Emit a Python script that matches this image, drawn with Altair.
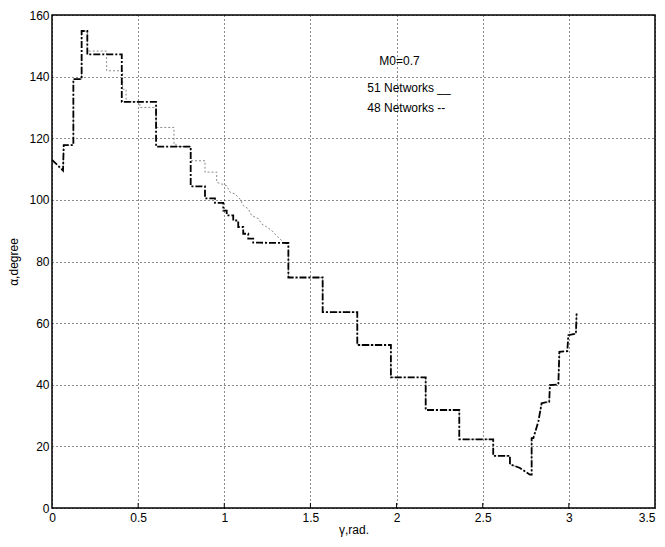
import altair as alt
import pandas as pd

# 48 Networks (dark dash-dot)
black_x = [0, 0.064, 0.068, 0.124, 0.124, 0.172, 0.172, 0.205, 0.205, 0.405, 0.405, 0.604, 0.604,
           0.805, 0.805, 0.888, 0.888, 0.946, 0.946, 0.994, 0.994, 1.014, 1.014, 1.052, 1.052, 1.081,
           1.081, 1.110, 1.110, 1.139, 1.139, 1.168, 1.168, 1.207, 1.366, 1.372, 1.372, 1.571, 1.571,
           1.772, 1.772, 1.967, 1.967, 2.169, 2.169, 2.364, 2.364, 2.561, 2.561, 2.658, 2.658, 2.716,
           2.774, 2.784, 2.784, 2.794, 2.823, 2.842, 2.886, 2.890, 2.939, 2.945, 2.991, 2.997, 3.041, 3.045]
black_y = [113, 109.5, 117.8, 117.8, 139.2, 139.2, 154.8, 154.8, 147.2, 147.2, 131.8, 131.8, 117.3,
           117.3, 104.4, 104.4, 100.5, 100.5, 99.0, 99.0, 96.5, 96.5, 95.0, 95.0, 93.3, 93.3,
           91.2, 91.2, 89.0, 89.0, 87.4, 87.4, 86.1, 86.1, 86.0, 86.0, 74.8, 74.8, 63.6,
           63.6, 52.9, 52.9, 42.4, 42.4, 31.8, 31.8, 22.3, 22.3, 16.9, 16.9, 14.2, 13.0,
           10.8, 10.8, 22.7, 22.7, 28.1, 34.0, 34.5, 39.9, 40.1, 50.7, 50.9, 56.1, 56.6, 63.1]

# 51 Networks (light grey)
gray_x = [0, 0.064, 0.068, 0.124, 0.124, 0.172, 0.172, 0.205, 0.205, 0.317, 0.317, 0.41, 0.41, 0.43,
          0.43, 0.51, 0.51, 0.604, 0.604, 0.708, 0.708, 0.72, 0.72, 0.805, 0.805, 0.888, 0.888, 0.956,
          0.956, 1.014, 1.033, 1.062, 1.091, 1.110, 1.139, 1.159, 1.198, 1.217, 1.246, 1.275, 1.304,
          1.323, 1.343, 1.366]
gray_y = [113, 109.5, 117.8, 117.8, 139.2, 139.2, 154.8, 154.8, 148.3, 148.3, 141.9, 141.9, 135.9, 135.9,
          131.8, 131.8, 130.0, 130.0, 123.5, 123.5, 118.1, 118.1, 117.3, 117.3, 112.7, 112.7, 109.0, 109.0,
          105.7, 104.6, 102.5, 101.9, 100.3, 98.2, 97.1, 94.9, 93.9, 92.2, 91.2, 90.1, 88.3,
          87.4, 86.1, 86.0]
# grey coincides with black after the merge point
idx = black_x.index(1.366)
gray_x = gray_x + black_x[idx + 1:]
gray_y = gray_y + black_y[idx + 1:]

legend_text = ["M0=0.7", "51 Networks __", "48 Networks --"]
legend_x = [1.90, 1.83, 1.83]
legend_y = [145, 136.2, 129.8]

x_ticks = [0, 0.5, 1, 1.5, 2, 2.5, 3, 3.5]
y_ticks = [0, 20, 40, 60, 80, 100, 120, 140, 160]

FONT = "Liberation Sans"
W, H = 603, 493

black_df = pd.DataFrame({"x": black_x, "y": black_y, "o": range(len(black_x))})
gray_df = pd.DataFrame({"x": gray_x, "y": gray_y, "o": range(len(gray_x))})
leg_df = pd.DataFrame({"t": legend_text, "x": legend_x, "y": legend_y})
tick_df = pd.DataFrame({"x": x_ticks[1:-1]})

xs = alt.Scale(domain=[0, 3.5], nice=False, zero=False)
ys = alt.Scale(domain=[0, 160], nice=False)

xax = alt.Axis(values=x_ticks, format="~g", title="γ,rad.", grid=True, gridColor="black",
               gridDash=[1, 3], gridOpacity=0.9, gridWidth=1, ticks=False, domain=False,
               labelFont=FONT, labelFontSize=12, labelColor="black", labelPadding=4,
               titleFont=FONT, titleFontSize=12, titleFontWeight="normal", titleColor="black",
               titlePadding=1, labelFlush=False,
               labelAlign={"condition": {"test": "datum.value >= 3.5", "value": "right"},
                           "value": "center"})
yax = alt.Axis(values=y_ticks, format="d", title="α,degree", grid=True, gridColor="black",
               gridDash=[1, 3], gridOpacity=0.9, gridWidth=1, ticks=False, domain=False,
               labelFont=FONT, labelFontSize=12, labelColor="black", labelPadding=3,
               titleFont=FONT, titleFontSize=12, titleFontWeight="normal", titleColor="black",
               titlePadding=8, labelFlush=False)

gray = alt.Chart(gray_df).mark_line(color="#8a8a8a", strokeWidth=1, strokeDash=[2, 2]).encode(
    x=alt.X("x:Q", scale=xs, axis=xax),
    y=alt.Y("y:Q", scale=ys, axis=yax),
    order="o:Q",
)
black = alt.Chart(black_df).mark_line(color="black", strokeWidth=1.8, strokeDash=[7, 2, 2, 2]).encode(
    x=alt.X("x:Q", scale=xs),
    y=alt.Y("y:Q", scale=ys),
    order="o:Q",
)
ticks = alt.Chart(tick_df).mark_rule(color="black", strokeWidth=1).encode(
    x=alt.X("x:Q", scale=xs),
    y=alt.value(H),
    y2=alt.value(H - 5),
)
legend = alt.Chart(leg_df).mark_text(align="left", baseline="middle", font=FONT, fontSize=12,
                                       color="black").encode(
    x=alt.X("x:Q", scale=xs),
    y=alt.Y("y:Q", scale=ys),
    text="t:N",
)

chart = alt.layer(gray, black, ticks, legend).properties(
    width=W, height=H,
    autosize=alt.AutoSizeParams(type="none"),
    padding={"left": 44, "top": 7, "right": 2, "bottom": 31},
    background="white",
).configure_view(stroke="black", strokeWidth=1.5)

chart.save("out.html", embed_options={"renderer": "svg", "actions": False})
